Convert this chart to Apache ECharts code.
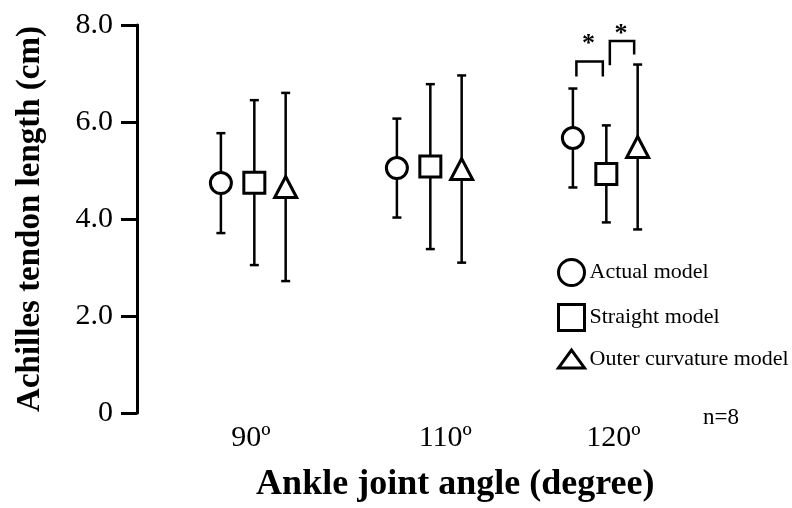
<!DOCTYPE html>
<html>
<head>
<meta charset="utf-8">
<script src="https://cdn.jsdelivr.net/npm/echarts@6/dist/echarts.min.js"></script>
<style>
  html, body { margin: 0; padding: 0; background: #fff; }
  #chart { width: 792px; height: 508px; }
</style>
</head>
<body>
<div id="chart"></div>
<script>
// Ankle joint angles (x groups) and tick labels
const angles = ['90º', '110º', '120º'];
const yTickLabels = ['0', '2.0', '4.0', '6.0', '8.0'];

// Achilles tendon length (cm), mean and SD for each model
const modelNames = ['Actual model', 'Straight model', 'Outer curvature model'];
const actualMean = [4.74, 5.05, 5.67];
const actualSD = [1.03, 1.02, 1.02];
const straightMean = [4.75, 5.08, 4.93];
const straightSD = [1.70, 1.70, 1.00];
const outerMean = [4.66, 5.03, 5.485];
const outerSD = [1.94, 1.93, 1.70];
const sampleSize = 8;

// Significant pairs at 120º: [group, modelA, modelB, bracket top, leg end A, leg end B, star level]
const sigPairs = [
  [2, 0, 1, 7.25, 6.94, 6.94, 7.72],
  [2, 1, 2, 7.67, 7.17, 7.39, 7.93]
];

// ---- layout ----
const FONT = "'Liberation Serif', 'Times New Roman', serif";
const modelOffset = [-0.19, 0, 0.178];      // horizontal spread of the three models inside a group
const symbols = ['circle', 'rect', 'triangle'];
const legendIcons = ['circle', 'rect', 'path://M0,20L14.5,0L29,20Z'];
const labelShift = [-0.02, 0.085, 0.04];    // placement of the angle labels around each group
const X_MIN = 1 / 3, X_MAX = 3.95;

const means = [actualMean, straightMean, outerMean];
const sds = [actualSD, straightSD, outerSD];
const labelAt = angles.map((_, i) => i + 1 + labelShift[i]);

const series = [];
// error bars (mean ± SD)
means.forEach((m, k) => {
  series.push({
    type: 'custom',
    name: modelNames[k] + ' SD',
    z: 1,
    silent: true,
    data: m.map((v, i) => [i + 1 + modelOffset[k], v, sds[k][i]]),
    renderItem: function (params, api) {
      const x = api.value(0), v = api.value(1), s = api.value(2);
      const top = api.coord([x, v + s]);
      const bot = api.coord([x, v - s]);
      const cap = 4.5;
      const style = { stroke: '#000', lineWidth: 2.5, fill: null };
      return {
        type: 'group',
        children: [
          { type: 'line', shape: { x1: top[0], y1: top[1], x2: bot[0], y2: bot[1] }, style },
          { type: 'line', shape: { x1: top[0] - cap, y1: top[1], x2: top[0] + cap, y2: top[1] }, style },
          { type: 'line', shape: { x1: bot[0] - cap, y1: bot[1], x2: bot[0] + cap, y2: bot[1] }, style }
        ]
      };
    }
  });
});
// mean markers
means.forEach((m, k) => {
  series.push({
    type: 'scatter',
    name: modelNames[k],
    z: 3,
    symbol: symbols[k],
    symbolSize: k === 2 ? [22, 21] : 21,
    itemStyle: { color: '#fff', borderColor: '#000', borderWidth: 3, opacity: 1 },
    data: m.map((v, i) => [i + 1 + modelOffset[k], v])
  });
});
// significance brackets with asterisks
series.push({
  type: 'custom',
  name: 'significance',
  z: 2,
  silent: true,
  clip: false,
  data: sigPairs,
  renderItem: function (params, api) {
    const g = api.value(0) + 1;
    const xa = g + modelOffset[api.value(1)];
    const xb = g + modelOffset[api.value(2)];
    const inset = 3.5;
    const pTopA = api.coord([xa, api.value(3)]);
    const pTopB = api.coord([xb, api.value(3)]);
    const pEndA = api.coord([xa, api.value(4)]);
    const pEndB = api.coord([xb, api.value(5)]);
    const pStar = api.coord([(xa + xb) / 2, api.value(6)]);
    const xl = pTopA[0] + inset, xr = pTopB[0] - inset;
    return {
      type: 'group',
      children: [
        {
          type: 'polyline',
          shape: { points: [[xl, pEndA[1]], [xl, pTopA[1]], [xr, pTopB[1]], [xr, pEndB[1]]] },
          style: { stroke: '#000', lineWidth: 2.5, fill: null }
        },
        {
          type: 'text',
          style: {
            text: '*', x: pStar[0] - 1, y: pStar[1] + 6,
            align: 'center', verticalAlign: 'middle',
            font: 'bold 26px ' + FONT, fill: '#000'
          }
        }
      ]
    };
  }
});

const option = {
  backgroundColor: '#fff',
  animation: false,
  grid: { left: 137, top: 25, bottom: 92, right: 792 - 137 - (X_MAX - X_MIN) * 176 },
  xAxis: {
    type: 'value',
    min: X_MIN,
    max: X_MAX,
    axisLine: { show: false },
    axisTick: { show: false },
    splitLine: { show: false },
    axisLabel: {
      customValues: labelAt,
      margin: 10,
      color: '#000',
      fontFamily: FONT,
      fontSize: 30,
      formatter: function (v) {
        let best = 0;
        labelAt.forEach((p, i) => { if (Math.abs(p - v) < Math.abs(labelAt[best] - v)) best = i; });
        return angles[best];
      }
    },
    name: 'Ankle joint angle (degree)',
    nameLocation: 'middle',
    nameGap: 54,
    nameTextStyle: { color: '#000', fontFamily: FONT, fontSize: 36, fontWeight: 'bold' }
  },
  yAxis: {
    type: 'value',
    min: 0,
    max: 8,
    interval: 2,
    axisLine: { show: true, lineStyle: { color: '#000', width: 3 } },
    axisTick: { show: true, length: 16, lineStyle: { color: '#000', width: 3 } },
    splitLine: { show: false },
    axisLabel: {
      margin: 24,
      color: '#000',
      fontFamily: FONT,
      fontSize: 30,
      formatter: function (v) { return yTickLabels[Math.round(v / 2)]; }
    },
    name: 'Achilles tendon length (cm)',
    nameLocation: 'middle',
    nameGap: 90,
    nameTextStyle: { color: '#000', fontFamily: FONT, fontSize: 33, fontWeight: 'bold' }
  },
  legend: {
    data: modelNames.map((n, k) => ({ name: n, icon: legendIcons[k] })),
    orient: 'vertical',
    left: 552,
    top: 253,
    itemWidth: 26,
    itemHeight: 26,
    itemGap: 16,
    selectedMode: false,
    itemStyle: { color: '#fff', borderColor: '#000', borderWidth: 3 },
    textStyle: { color: '#000', fontFamily: FONT, fontSize: 22 }
  },
  graphic: [
    {
      type: 'text',
      left: 703,
      top: 406,
      style: { text: 'n=' + sampleSize, font: '23px ' + FONT, fill: '#000' }
    }
  ],
  series: series
};

const chart = echarts.init(document.getElementById('chart'), null, { renderer: 'canvas' });
chart.setOption(option);
</script>
</body>
</html>
